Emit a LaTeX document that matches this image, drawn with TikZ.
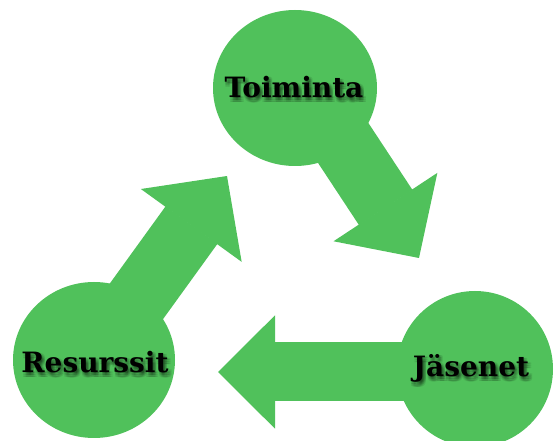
\documentclass[tikz,border=0pt]{standalone}
\usepackage{fontspec}
\newfontfamily\slabfont{DejaVu Serif}
\usetikzlibrary{arrows.meta,shapes.geometric}

\definecolor{leafgreen}{RGB}{80,193,91}

\tikzset{
    blob/.style={ellipse, fill=leafgreen, inner sep=0pt,
        minimum width=162pt, minimum height=156pt},
    word/.style={font=\slabfont\bfseries\fontsize{28}{32}\selectfont,
        inner sep=0pt, text=black},
    flow/.style={draw=leafgreen, line width=64pt, line cap=butt,
        -{Triangle[length=61pt, width=124pt, line width=2pt]}},
}

% text with a soft shadow below right
\newcommand\shadedword[3]{%
    \foreach \dx/\dy in {0.5/1, 2/1, 3.5/1, 0.5/3, 2/3, 3.5/3, 0.5/5, 2/5, 3.5/5}
        \node[word, text opacity=0.09] at ([shift={(\dx,\dy)}]#2) {#3};
    \node[word] (#1) at (#2) {#3};
}

\begin{document}
\begin{tikzpicture}[x=1pt, y=-1pt]
    \useasboundingbox (0, 0) rectangle (558, 441);

    \coordinate (toiminta-c) at (295, 88);
    \coordinate (jasenet-c) at (475, 369);
    \coordinate (resurssit-c) at (94, 360);

    \coordinate (to-jasenet) at (419, 258);
    \coordinate (to-resurssit) at (218, 372);
    \coordinate (to-toiminta) at (227, 176);

    % arrows first, the circles cover their tails
    \draw[flow] ([xshift=12pt]toiminta-c) -- (to-jasenet);
    \draw[flow, line width=59pt, -{Triangle[length=57pt, width=113pt, line width=2pt]}]
        (to-resurssit -| jasenet-c) -- (to-resurssit);
    \draw[flow] (resurssit-c) -- (to-toiminta);

    \node[blob, minimum width=164pt] (toiminta) at (toiminta-c) {};
    \node[blob, minimum width=156pt] (jasenet) at (jasenet-c) {};
    \node[blob] (resurssit) at (resurssit-c) {};

    % label positions
    \coordinate (toiminta-t) at (294, 87);
    \coordinate (jasenet-t) at (471, 368);
    \coordinate (resurssit-t) at (95, 362);

    \shadedword{toiminta-text}{toiminta-t}{Toiminta}
    \shadedword{jasenet-text}{jasenet-t}{Jäsenet}
    \shadedword{resurssit-text}{resurssit-t}{Resurssit}

\end{tikzpicture}
\end{document}
